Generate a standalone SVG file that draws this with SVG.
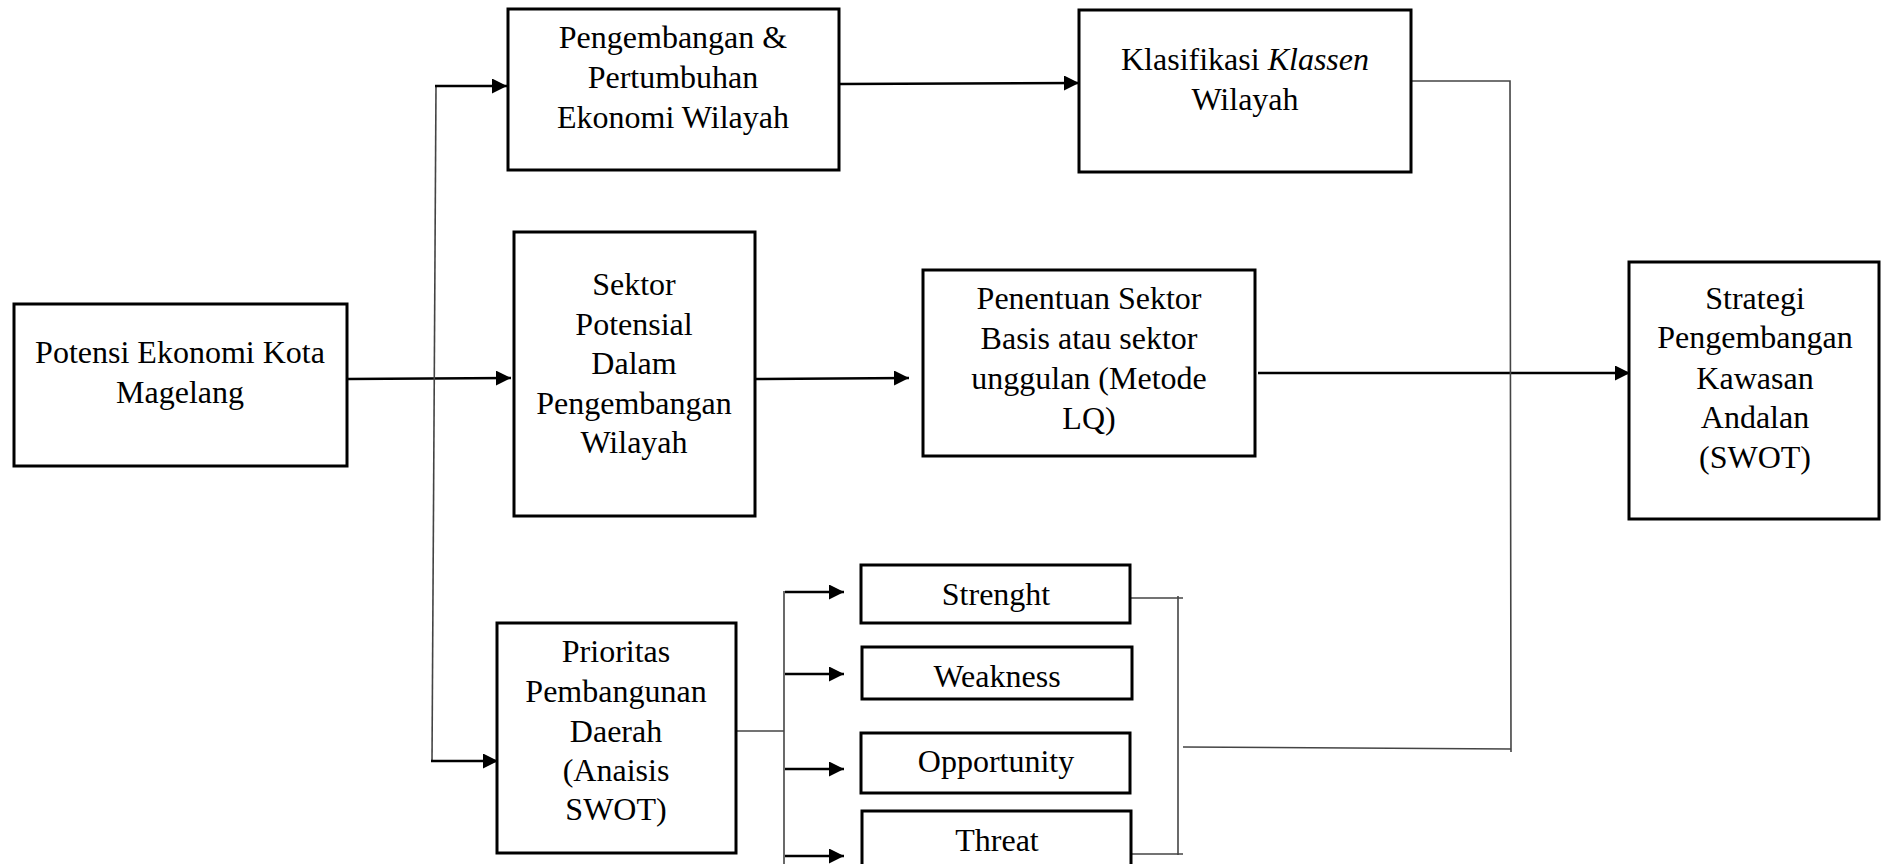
<svg xmlns="http://www.w3.org/2000/svg" width="1881" height="864" viewBox="0 0 1881 864">
<style>
.box{fill:#fff;stroke:#000;stroke-width:3}
.t{font-family:"Liberation Serif","Times New Roman",serif;font-size:32px;fill:#000;text-anchor:middle}
.arr{fill:none;stroke:#000;stroke-width:2.6;marker-end:url(#ah)}
.thin{fill:none;stroke:#444;stroke-width:1.6}
</style>
<defs>
<marker id="ah" markerUnits="userSpaceOnUse" markerWidth="16" markerHeight="16" refX="15" refY="7.5" orient="auto">
<path d="M0,0 L15,7.5 L0,15 z" fill="#000"/>
</marker>
</defs>
<rect width="1881" height="864" fill="#fff"/>
<g id="connectors">
<line class="arr" x1="347" y1="379" x2="511" y2="378"/>
<line class="thin" x1="436" y1="86" x2="432" y2="762"/>
<line class="arr" x1="435" y1="86" x2="507" y2="86"/>
<line class="arr" x1="431" y1="761" x2="498" y2="761"/>
<line class="arr" x1="840" y1="84" x2="1079" y2="83"/>
<line class="arr" x1="755" y1="379" x2="909" y2="378"/>
<line class="arr" x1="1258" y1="373" x2="1630" y2="373"/>
<polyline class="thin" points="1411,81 1510,81 1511,752"/>
<line class="thin" x1="1183" y1="747" x2="1511" y2="749"/>
<line class="thin" x1="1131" y1="598" x2="1183" y2="598"/>
<line class="thin" x1="1178" y1="596" x2="1178" y2="855"/>
<line class="thin" x1="1132" y1="854" x2="1183" y2="854"/>
<line class="thin" x1="736" y1="731" x2="784" y2="731"/>
<line class="thin" x1="784" y1="591" x2="784" y2="864"/>
<line class="arr" x1="785" y1="592" x2="844" y2="592"/>
<line class="arr" x1="785" y1="674" x2="844" y2="674"/>
<line class="arr" x1="785" y1="769" x2="844" y2="769"/>
<line class="arr" x1="785" y1="856" x2="844" y2="856"/>
</g>
<g id="potensi">
<rect class="box" x="14" y="304" width="333" height="162"/>
<text class="t" x="180" y="363">Potensi Ekonomi Kota</text>
<text class="t" x="180" y="403">Magelang</text>
</g>
<g id="pengembangan">
<rect class="box" x="508" y="9" width="331" height="161"/>
<text class="t" x="673" y="48">Pengembangan &amp;</text>
<text class="t" x="673" y="88">Pertumbuhan</text>
<text class="t" x="673" y="128">Ekonomi Wilayah</text>
</g>
<g id="sektor">
<rect class="box" x="514" y="232" width="241" height="284"/>
<text class="t" x="634" y="295">Sektor</text>
<text class="t" x="634" y="335">Potensial</text>
<text class="t" x="634" y="374">Dalam</text>
<text class="t" x="634" y="414">Pengembangan</text>
<text class="t" x="634" y="453">Wilayah</text>
</g>
<g id="klasifikasi">
<rect class="box" x="1079" y="10" width="332" height="162"/>
<text class="t" x="1245" y="70">Klasifikasi <tspan font-style="italic">Klassen</tspan></text>
<text class="t" x="1245" y="110">Wilayah</text>
</g>
<g id="penentuan">
<rect class="box" x="923" y="270" width="332" height="186"/>
<text class="t" x="1089" y="309">Penentuan Sektor</text>
<text class="t" x="1089" y="349">Basis atau sektor</text>
<text class="t" x="1089" y="389">unggulan (Metode</text>
<text class="t" x="1089" y="429">LQ)</text>
</g>
<g id="strategi">
<rect class="box" x="1629" y="262" width="250" height="257"/>
<text class="t" x="1755" y="309">Strategi</text>
<text class="t" x="1755" y="348">Pengembangan</text>
<text class="t" x="1755" y="389">Kawasan</text>
<text class="t" x="1755" y="428">Andalan</text>
<text class="t" x="1755" y="468">(SWOT)</text>
</g>
<g id="prioritas">
<rect class="box" x="497" y="623" width="239" height="230"/>
<text class="t" x="616" y="662">Prioritas</text>
<text class="t" x="616" y="702">Pembangunan</text>
<text class="t" x="616" y="742">Daerah</text>
<text class="t" x="616" y="781">(Anaisis</text>
<text class="t" x="616" y="820">SWOT)</text>
</g>
<g id="strenght">
<rect class="box" x="861" y="565" width="269" height="58"/>
<text class="t" x="996" y="605">Strenght</text>
</g>
<g id="weakness">
<rect class="box" x="862" y="647" width="270" height="52"/>
<text class="t" x="997" y="687">Weakness</text>
</g>
<g id="opportunity">
<rect class="box" x="861" y="733" width="269" height="60"/>
<text class="t" x="996" y="772">Opportunity</text>
</g>
<g id="threat">
<rect class="box" x="862" y="811" width="269" height="62"/>
<text class="t" x="997" y="851">Threat</text>
</g>
</svg>
